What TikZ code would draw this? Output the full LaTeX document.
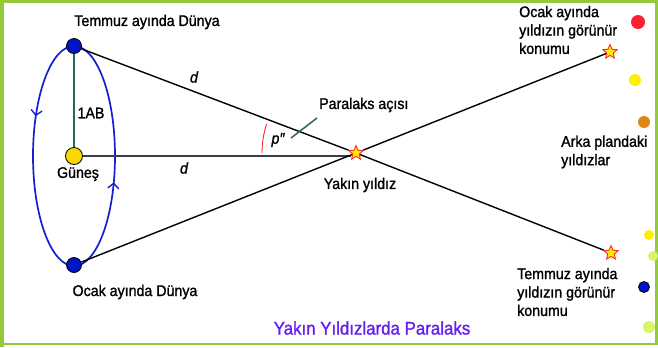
\documentclass[tikz,border=0pt]{standalone}
\usepackage{fontspec}
\setmainfont{Liberation Sans}[FakeStretch=0.92, FakeBold=1.3]
\usepackage{xcolor}
\usetikzlibrary{arrows.meta, calc, positioning, shapes.geometric, backgrounds, decorations.markings}

\definecolor{framegreen}{RGB}{150,200,60}
\definecolor{earthblue}{RGB}{0,20,200}
\definecolor{orbitblue}{RGB}{20,30,210}
\definecolor{sunyellow}{RGB}{250,215,0}
\definecolor{leadgreen}{RGB}{40,105,80}
\definecolor{sungray}{RGB}{60,60,75}
\definecolor{starred}{RGB}{255,40,40}
\definecolor{staryellow}{RGB}{255,235,0}
\definecolor{titlepurple}{RGB}{100,30,240}
\definecolor{bgred}{RGB}{255,30,50}
\definecolor{bgyellow}{RGB}{255,240,0}
\definecolor{bgorange}{RGB}{220,135,20}
\definecolor{bglime}{RGB}{215,245,100}

\begin{document}
\begin{tikzpicture}[x=1bp, y=-1bp,
    lbl/.style={font=\fontsize{15.5}{18.5}\selectfont, inner sep=1bp, align=left},
    mathlbl/.style={font=\fontsize{15.5}{18.5}\selectfont\itshape, inner sep=1bp},
    planet/.style={circle, draw=black, fill=earthblue, minimum size=15bp, inner sep=0pt, line width=0.8bp},
    starnode/.style={star, star points=5, star point ratio=2.2, draw=starred, fill=staryellow, minimum size=15bp, inner sep=0pt, line width=0.9bp},
    bgstar/.style={circle, inner sep=0pt, minimum size=#1},
    sight/.style={line width=1.4bp, black},
    orbit/.style={line width=1.7bp, orbitblue}]

    \useasboundingbox (0,0) rectangle (658,347);
    \draw[framegreen, line width=2.6bp] (1.3,1.3) rectangle (656.7,344);
    \draw[framegreen, line width=4bp] (2,0) -- (2,347);

    \node[planet] (julE) at (74,46) {};
    \node[planet] (janE) at (74,265) {};
    \node[circle, draw=black, fill=sunyellow, minimum size=17bp, inner sep=0pt, line width=0.8bp] (sun) at (74,156) {};
    \node[starnode] (near) at (356,153) {};
    \node[starnode] (farT) at (610,52) {};
    \node[starnode] (farB) at (611,253) {};

    \node[lbl] (julLbl) at (147,22) {Temmuz ayında Dünya};
    \node[lbl] (janLbl) at (135,292) {Ocak ayında Dünya};
    \node[lbl, below=1bp of sun, xshift=4bp] (sunLbl) {Güneş};
    \node[lbl] (auLbl) at (91,113) {1AB};
    \node[mathlbl] (dTop) at (194,77) {d};
    \node[mathlbl] (dMid) at (184,168) {d};
    \node[mathlbl] (pLbl) at (278,140) {p″};
    \node[lbl, anchor=west] (paraLbl) at (318,105) {Paralaks açısı};
    \node[lbl] (nearLbl) at (360,185) {Yakın yıldız};
    \node[lbl, anchor=west] (janPos) at (518,30) {Ocak ayında\\yıldızın görünür\\konumu};
    \node[lbl, anchor=west] (julPos) at (516,292) {Temmuz ayında\\yıldızın görünür\\konumu};
    \node[lbl, anchor=west] (bgLbl) at (560,152) {Arka plandaki\\yıldızlar};
    \node[font=\fontsize{18.4}{22}\selectfont, text=titlepurple, inner sep=1bp] (title) at (372,328) {Yakın Yıldızlarda Paralaks};

    \node[bgstar=14bp, fill=bgred] (bg1) at (638,22) {};
    \node[bgstar=12bp, fill=bgyellow] (bg2) at (635,80) {};
    \node[bgstar=12bp, fill=bgorange] (bg3) at (644,122) {};
    \node[bgstar=10bp, fill=bgyellow] (bg4) at (649,235) {};
    \node[bgstar=10bp, fill=bglime] (bg5) at (653,256) {};
    \node[bgstar=11bp, fill=earthblue, draw=black, line width=0.8bp] (bg6) at (644,287) {};
    \node[bgstar=12bp, fill=bglime] (bg7) at (649,327) {};

    \coordinate (leadEnd) at (291,138);

    \begin{pgfonlayer}{background}
        \draw[orbit, postaction={decorate}, decoration={markings,
            mark=at position 0.053 with {\arrowreversed{Straight Barb[length=5bp, width=11bp, line width=1.4bp]}},
            mark=at position 0.58 with {\arrowreversed{Straight Barb[length=5bp, width=11bp, line width=1.4bp]}}}]
            (sun) ellipse [x radius=41, y radius=110];
        \draw[leadgreen, line width=1.5bp] (julE) -- (sun);
        \draw[sungray, line width=1.5bp] (sun) -- (sun -| near.west);
        \draw[sight] (julE) -- (near) -- (farB);
        \draw[sight] (janE) -- (near) -- (farT);
        \draw[leadgreen, line width=1.5bp] (leadEnd) -- ([shift={(-1,13)}]paraLbl.west);
        \draw[starred, line width=0.9bp] (near) ++(180:94) arc[start angle=180, end angle=198, radius=94];
    \end{pgfonlayer}
\end{tikzpicture}
\end{document}
